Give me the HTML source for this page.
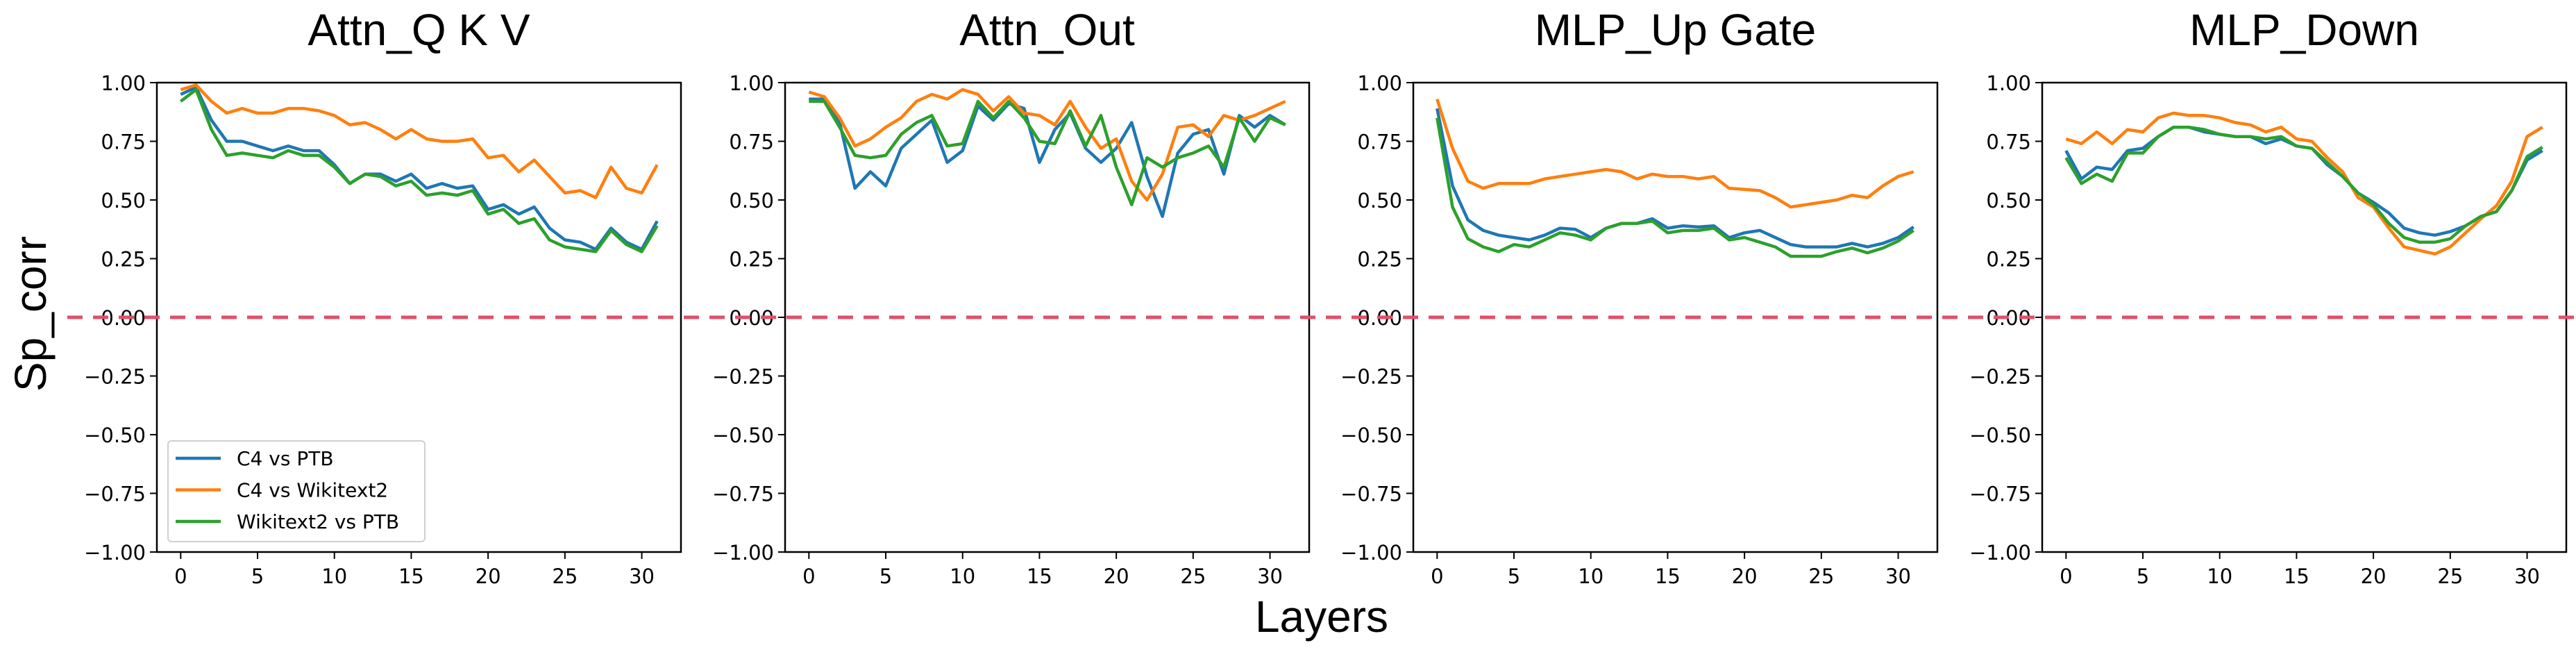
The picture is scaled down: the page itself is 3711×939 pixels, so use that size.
<!DOCTYPE html>
<html><head><meta charset="utf-8"><style>
html,body{margin:0;padding:0;background:#fff}
svg{display:block}
</style></head><body>
<svg id="fig" width="3711" height="939" viewBox="0 0 3711 939" xmlns="http://www.w3.org/2000/svg">
<text x="0" y="0" transform="translate(66,452) rotate(-90)" text-anchor="middle" font-family="Liberation Sans, sans-serif" font-size="64">Sp_corr</text>
<text x="1904" y="910" text-anchor="middle" font-family="Liberation Sans, sans-serif" font-size="64">Layers</text>
</svg>
<script>
const titles = ["Attn_Q K V", "Attn_Out", "MLP_Up Gate", "MLP_Down"];
const seriesNames = ["C4 vs PTB", "C4 vs Wikitext2", "Wikitext2 vs PTB"];
const xTicks = [0, 5, 10, 15, 20, 25, 30];
const yTicks = [-1, -0.75, -0.5, -0.25, 0, 0.25, 0.5, 0.75, 1];
const yTickLabels = ["\u22121.00","\u22120.75","\u22120.50","\u22120.25","0.00","0.25","0.50","0.75","1.00"];

const qkvPTB = [.95,.98,.84,.75,.75,.73,.71,.73,.71,.71,.65,.57,.61,.61,.58,.61,.55,.57,.55,.56,.46,.48,.44,.47,.38,.33,.32,.29,.38,.32,.29,.41];
const qkvWiki = [.97,.99,.92,.87,.89,.87,.87,.89,.89,.88,.86,.82,.83,.80,.76,.80,.76,.75,.75,.76,.68,.69,.62,.67,.60,.53,.54,.51,.64,.55,.53,.65];
const qkvWP = [.92,.97,.80,.69,.70,.69,.68,.71,.69,.69,.64,.57,.61,.60,.56,.58,.52,.53,.52,.54,.44,.46,.40,.42,.33,.30,.29,.28,.37,.31,.28,.39];

const outPTB = [.93,.93,.83,.55,.62,.56,.72,.78,.84,.66,.71,.90,.84,.91,.89,.66,.80,.87,.72,.66,.72,.83,.60,.43,.70,.78,.80,.61,.86,.81,.86,.82];
const outWiki = [.96,.94,.85,.73,.76,.81,.85,.92,.95,.93,.97,.95,.88,.94,.87,.86,.82,.92,.81,.72,.76,.58,.50,.61,.81,.82,.77,.86,.84,.86,.89,.92];
const outWP = [.92,.92,.81,.69,.68,.69,.78,.83,.86,.73,.74,.92,.85,.92,.85,.75,.74,.88,.73,.86,.64,.48,.68,.64,.68,.70,.73,.64,.85,.75,.85,.82];

const upPTB = [.89,.56,.415,.37,.35,.34,.33,.35,.38,.375,.34,.38,.40,.40,.42,.38,.39,.385,.39,.34,.36,.37,.34,.31,.30,.30,.30,.315,.30,.315,.34,.385];
const upWiki = [.93,.72,.58,.55,.57,.57,.57,.59,.60,.61,.62,.63,.62,.59,.61,.60,.60,.59,.60,.55,.545,.54,.51,.47,.48,.49,.50,.52,.51,.56,.60,.62];
const upWP = [.85,.47,.335,.30,.28,.31,.30,.33,.36,.35,.33,.38,.40,.40,.41,.36,.37,.37,.38,.33,.34,.32,.30,.26,.26,.26,.28,.295,.275,.295,.325,.37];

const downPTB = [.71,.59,.64,.63,.71,.72,.77,.81,.81,.79,.78,.77,.77,.74,.76,.73,.72,.65,.60,.53,.49,.445,.38,.36,.35,.365,.39,.43,.45,.54,.67,.71];
const downWiki = [.76,.74,.79,.74,.80,.79,.85,.87,.86,.86,.85,.83,.82,.79,.81,.76,.75,.68,.62,.51,.47,.38,.30,.285,.27,.30,.36,.42,.475,.58,.77,.81];
const downWP = [.68,.57,.61,.58,.70,.70,.77,.81,.81,.80,.78,.77,.77,.76,.77,.73,.72,.66,.60,.53,.48,.40,.34,.32,.32,.335,.39,.43,.45,.54,.685,.725];

const panelData = [[qkvPTB,qkvWiki,qkvWP],[outPTB,outWiki,outWP],[upPTB,upWiki,upWP],[downPTB,downWiki,downWP]];
const colors = ["#1f77b4","#ff7f0e","#2ca02c"];

const NS = "http://www.w3.org/2000/svg";
const svg = document.getElementById("fig");
function mk(tag, attrs, parent){const e=document.createElementNS(NS,tag);for(const k in attrs)e.setAttribute(k,attrs[k]);(parent||svg).appendChild(e);return e;}

const lefts = [226, 1131, 2036, 2942];
const W = 755, TOP = 119, BOT = 795;
const xMin = -1.55, xMax = 32.55, yMin = -1, yMax = 1;
const TICKFONT = "DejaVu Sans, sans-serif";

panelData.forEach((series, p) => {
  const L = lefts[p];
  const xs = v => L + (v - xMin) / (xMax - xMin) * W;
  const ys = v => BOT - (v - yMin) / (yMax - yMin) * (BOT - TOP);
  const g = mk("g", {});
  
  
  const t = mk("text", {x: L + W/2, y: 65, "text-anchor": "middle", "font-family": "Liberation Sans, sans-serif", "font-size": 64}, g);
  
  
  t.textContent = titles[p];
  yTicks.forEach((v, i) => {
    const tk = mk("line", {x1: L-10, x2: L, y1: ys(v), y2: ys(v), stroke: "#000", "stroke-width": 2}, g);
    
    
    const lb = mk("text", {x: L-16, y: ys(v)+11, "text-anchor": "end", "font-family": TICKFONT, "font-size": 29}, g);
    
    
    lb.textContent = yTickLabels[i];
  });
  xTicks.forEach(v => {
    const tk = mk("line", {x1: xs(v), x2: xs(v), y1: BOT, y2: BOT+10, stroke: "#000", "stroke-width": 2}, g);
    
    
    const lb = mk("text", {x: xs(v), y: 840, "text-anchor": "middle", "font-family": TICKFONT, "font-size": 29}, g);
    
    
    lb.textContent = String(v);
  });
  series.forEach((arr, s) => {
    const d = arr.map((v, i) => (i ? "L" : "M") + xs(i).toFixed(1) + "," + ys(v).toFixed(1)).join(" ");
    const pl = mk("path", {d: d, fill: "none", stroke: colors[s], "stroke-width": 4.5, "stroke-linejoin": "round"}, g);
    
    
  });
  const fr = mk("rect", {x: L, y: TOP, width: W, height: BOT-TOP, fill: "none", stroke: "#000", "stroke-width": 2.5}, g);
  
  
});

const zy = BOT - (0 - yMin) / (yMax - yMin) * (BOT - TOP);
const zl = mk("line", {x1: 97, x2: 3711, y1: zy, y2: zy, stroke: "#e0506a", "stroke-width": 5, "stroke-dasharray": "22 15"});



const lg = mk("g", {});


mk("rect", {x: 242, y: 635, width: 370, height: 145, rx: 5, fill: "#fff", "fill-opacity": 0.85, stroke: "#d0d0d0", "stroke-width": 2}, lg);
seriesNames.forEach((n, s) => {
  const yy = 660 + s*45.5;
  const ln = mk("line", {x1: 253, x2: 318, y1: yy, y2: yy, stroke: colors[s], "stroke-width": 4.5}, lg);
  
  
  const tx = mk("text", {x: 341, y: yy+10, "font-family": TICKFONT, "font-size": 28}, lg);
  
  
  tx.textContent = n;
});
</script>
</body></html>
